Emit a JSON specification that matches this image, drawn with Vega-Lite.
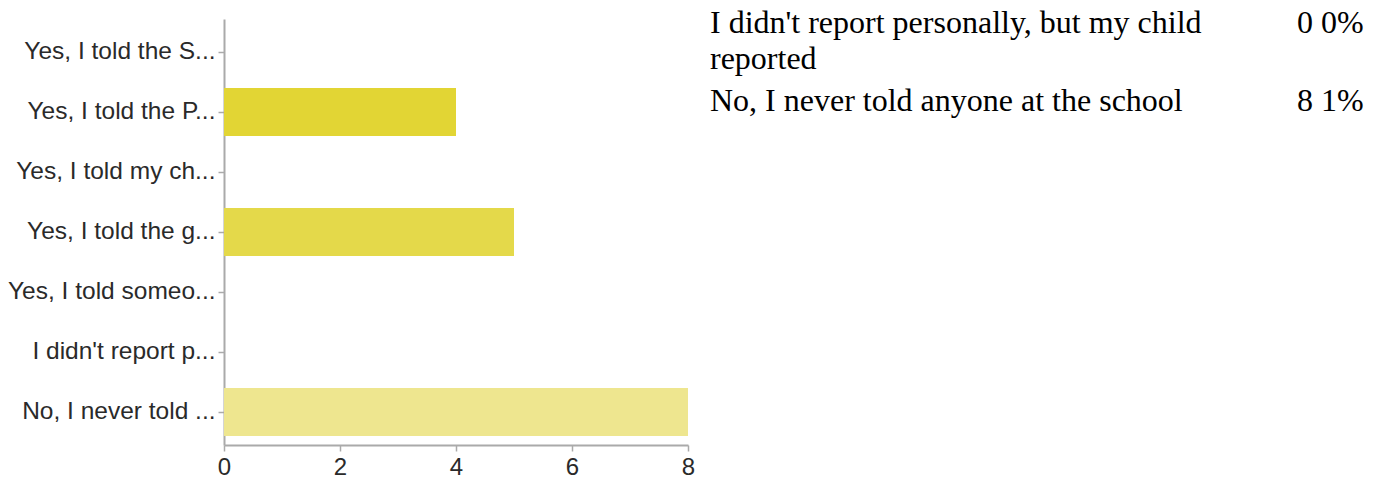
{
  "$schema": "https://vega.github.io/schema/vega-lite/v6.json",
  "background": "white",
  "padding": {"left": 5, "top": 7, "right": 5, "bottom": 5},
  "bounds": "flush",
  "spacing": 22,
  "config": {"view": {"stroke": null}},
  "datasets": {
    "bars": [
      {"label": "Yes, I told the S...", "count": 0},
      {"label": "Yes, I told the P...", "count": 4},
      {"label": "Yes, I told my ch...", "count": 0},
      {"label": "Yes, I told the g...", "count": 5},
      {"label": "Yes, I told someo...", "count": 0},
      {"label": "I didn't report p...", "count": 0},
      {"label": "No, I never told ...", "count": 8}
    ],
    "table": [
      {"row": 1, "col": "answer", "text": "I didn't report personally, but my child\nreported"},
      {"row": 1, "col": "count", "text": "0 0%"},
      {"row": 2, "col": "answer", "text": "No, I never told anyone at the school"},
      {"row": 2, "col": "count", "text": "8 1%"}
    ]
  },
  "hconcat": [
    {
      "width": 464,
      "height": 426,
      "data": {"name": "bars"},
      "mark": {"type": "bar"},
      "encoding": {
        "y": {
          "field": "label",
          "type": "nominal",
          "sort": null,
          "scale": {"paddingInner": 0.2, "paddingOuter": 0.15},
          "axis": {
            "title": null,
            "minExtent": 219,
            "maxExtent": 219,
            "labelFont": "Liberation Sans",
            "labelFontSize": 24.5,
            "labelColor": "#2a2a2a",
            "labelPadding": 3,
            "labelLimit": 300,
            "tickSize": 6,
            "tickColor": "#aaaaaa",
            "tickWidth": 1.5,
            "domainColor": "#aaaaaa",
            "domainWidth": 2
          }
        },
        "x": {
          "field": "count",
          "type": "quantitative",
          "scale": {"domain": [0, 8], "nice": false},
          "axis": {
            "title": null,
            "values": [0, 2, 4, 6, 8],
            "grid": false,
            "labelFlush": false,
            "labelFont": "Liberation Sans",
            "labelFontSize": 24,
            "labelColor": "#2a2a2a",
            "labelPadding": 4,
            "tickSize": 6,
            "tickColor": "#aaaaaa",
            "tickWidth": 1.5,
            "domainColor": "#aaaaaa",
            "domainWidth": 2
          }
        },
        "color": {
          "field": "label",
          "type": "nominal",
          "legend": null,
          "scale": {
            "domain": ["Yes, I told the S...", "Yes, I told the P...", "Yes, I told my ch...", "Yes, I told the g...", "Yes, I told someo...", "I didn't report p...", "No, I never told ..."],
            "range": ["#e0d21f", "#e2d534", "#e3d73f", "#e4d94a", "#e8de66", "#ebe27a", "#eee68f"]
          }
        }
      }
    },
    {
      "width": 587,
      "height": 78,
      "data": {"name": "table"},
      "mark": {
        "type": "text",
        "align": "left",
        "baseline": "alphabetic",
        "font": "Liberation Serif",
        "fontSize": 32,
        "lineHeight": 36,
        "lineBreak": "\n",
        "color": "#000000",
        "dy": 14
      },
      "encoding": {
        "x": {"field": "col", "type": "nominal", "scale": {"type": "point", "domain": ["answer", "count"], "padding": 0}, "axis": null},
        "y": {"field": "row", "type": "ordinal", "scale": {"type": "point", "padding": 0}, "axis": null},
        "text": {"field": "text"}
      }
    }
  ]
}
